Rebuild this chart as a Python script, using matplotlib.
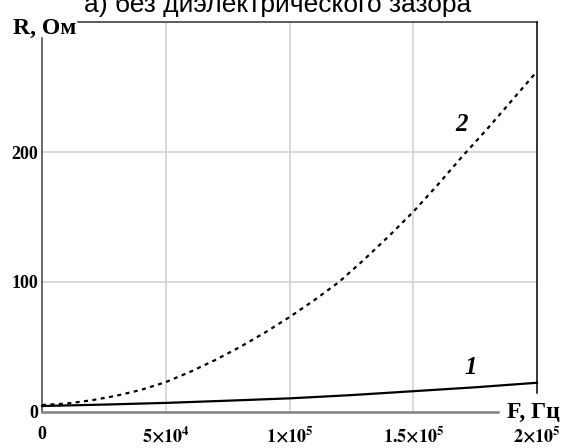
import matplotlib
matplotlib.use("Agg")
import matplotlib.pyplot as plt

# ---- data ----
F_curve1 = [0, 25000, 50000, 75000, 100000, 125000, 150000, 175000, 200000]
R_curve1 = [4.6, 5.7, 7.0, 8.7, 10.5, 13.0, 16.0, 19.0, 22.5]

F_curve2 = [0, 10000, 20000, 30000, 40000, 50000, 60000, 70000, 80000, 90000,
            100000, 110000, 120000, 130000, 140000, 150000, 160000, 170000,
            180000, 190000, 200000]
R_curve2 = [5.4, 6.5, 9.0, 12.5, 17.0, 23.0, 31.0, 40.0, 50.0, 61.0,
            73.0, 86.0, 100.0, 117.0, 135.0, 154.0, 175.0, 197.0,
            218.0, 240.0, 262.0]

x_ticks = [0, 50000, 100000, 150000, 200000]
x_tick_labels = ["0", r"$\mathbf{5{\times}10^{4}}$", r"$\mathbf{1{\times}10^{5}}$",
                 r"$\mathbf{1.5{\times}10^{5}}$", r"$\mathbf{2{\times}10^{5}}$"]
y_ticks = [0, 100, 200]
y_tick_labels = ["0", "100", "200"]

title = "а) без диэлектрического зазора"
xlabel = "F, Гц"
ylabel = "R, Ом"

plt.rcParams["mathtext.fontset"] = "stix"
plt.rcParams["font.family"] = ["Liberation Serif", "DejaVu Serif"]

W, H = 564, 448
fig = plt.figure(figsize=(W / 100, H / 100), dpi=100)
L, R_, T, B = 42, 537, 22, 412
ax = fig.add_axes([L / W, 1 - B / H, (R_ - L) / W, (B - T) / H])
ax.set_xlim(0, 200000)
ax.set_ylim(0, 300)

for s in ax.spines.values():
    s.set_visible(False)

# grid
for xv in x_ticks[1:-1]:
    ax.axvline(xv, color="#d0d0d0", lw=1.1, zorder=1)
for yv in y_ticks[1:]:
    ax.axhline(yv, color="#d0d0d0", lw=1.1, zorder=1)

# frame lines (Mathcad style)
tr = ax.transAxes
ax.plot([0, 0], [0, (B - 38) / (B - T)], transform=tr, color="#404040", lw=1.1, clip_on=False, zorder=3)
ax.plot([(78 - L) / (R_ - L), 1], [1, 1], transform=tr, color="#303030", lw=1.1, clip_on=False, zorder=3)
ax.plot([1, 1], [(B - 393) / (B - T), 1], transform=tr, color="black", lw=1.1, clip_on=False, zorder=3)
ax.plot([0, (498 - L) / (R_ - L)], [0, 0], transform=tr, color="#808080", lw=1.8, clip_on=False, zorder=3)

# curves
ax.plot(F_curve1, R_curve1, color="black", lw=1.6, zorder=4, clip_on=False)
ax.plot(F_curve2, R_curve2, color="black", lw=1.6, linestyle=(0, (1.8, 2.0)), zorder=4, clip_on=False)

ax.text(169500, 221, "2", fontsize=18, fontweight="bold", style="italic", ha="center", va="center")
ax.text(173000, 34, "1", fontsize=18, fontweight="bold", style="italic", ha="center", va="center")

ax.set_xticks(x_ticks)
ax.set_xticklabels(x_tick_labels)
ax.set_yticks(y_ticks)
ax.set_yticklabels(y_tick_labels)
ax.tick_params(axis="both", length=0, labelsize=13)
ax.tick_params(axis="x", pad=10)
ax.tick_params(axis="y", pad=3)
for lab in ax.get_xticklabels() + ax.get_yticklabels():
    lab.set_fontweight("bold")

fig.text(45 / W, 1 - 34 / H, ylabel, fontsize=17, fontweight="bold", ha="center", va="baseline")
fig.text(533 / W, 1 - 418 / H, xlabel, fontsize=17, fontweight="bold", ha="center", va="baseline")
fig.text(278 / W, 1 - 12 / H, title, fontsize=19, ha="center", va="baseline",
         family=["Liberation Sans", "DejaVu Sans"])

fig.savefig("out.png", dpi=100)
